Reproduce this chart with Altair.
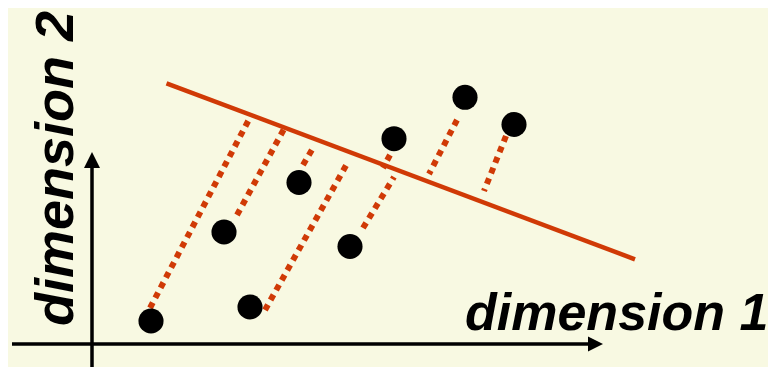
import altair as alt
import pandas as pd

# Coordinates in "dimension" units, origin where the two axes cross
point_x = [59, 132, 158, 207, 258, 302, 373, 422]
point_y = [23, 112, 37, 161.5, 97.5, 205.3, 246.7, 219.5]

line_x = [74.5, 543]
line_y = [260.7, 84.7]

proj_x1 = [58, 145, 173, 211, 271, 298, 365, 414]
proj_y1 = [36, 129, 34, 179, 116, 189, 224, 208]
proj_x2 = [158, 192, 256, 221, 302, 291, 337, 392]
proj_y2 = [226.5, 215, 182, 196, 167, 176, 170, 153]

axis_h = {"x": -80, "x2": 498, "y": 0}
axis_v = {"x": 0, "y": -31, "y2": 178}
arrow_right = {"x": 503.5, "y": 0}
arrow_up = {"x": 0, "y": 184}

labels = ["dimension 1", "dimension 2"]
label_x = [373, -19]
label_y = [14, 18]

BG = "#F8F9E2"
RED = "#D03A06"

X = alt.Scale(domain=[-84, 676], nice=False, zero=False)
Y = alt.Scale(domain=[-23, 336], nice=False, zero=False)

def xenc(f="x"):
    return alt.X(f"{f}:Q", scale=X, axis=None)

def yenc(f="y"):
    return alt.Y(f"{f}:Q", scale=Y, axis=None)

pts = pd.DataFrame({"x": point_x, "y": point_y})
ln = pd.DataFrame({"x": line_x, "y": line_y})
proj = pd.DataFrame({"x": proj_x1, "y": proj_y1, "x2": proj_x2, "y2": proj_y2})

projections = alt.Chart(proj).mark_rule(
    color=RED, strokeWidth=6, strokeDash=[6, 5.4], strokeCap="butt"
).encode(x=xenc(), y=yenc(), x2="x2:Q", y2="y2:Q")

main_line = alt.Chart(ln).mark_line(color=RED, strokeWidth=4.5).encode(
    x=xenc(), y=yenc()
)

points = alt.Chart(pts).mark_circle(color="black", opacity=1, size=630).encode(
    x=xenc(), y=yenc()
)

hax = alt.Chart(pd.DataFrame([axis_h])).mark_rule(color="black", strokeWidth=3.5).encode(
    x=xenc(), x2="x2:Q", y=yenc()
)
vax = alt.Chart(pd.DataFrame([axis_v])).mark_rule(color="black", strokeWidth=3.5).encode(
    x=xenc(), y=yenc(), y2="y2:Q"
)
arr_r = alt.Chart(pd.DataFrame([arrow_right])).mark_point(
    shape="M-1,-1L1,0L-1,1Z", filled=True, color="black", opacity=1, size=225, strokeWidth=0
).encode(x=xenc(), y=yenc())
arr_u = alt.Chart(pd.DataFrame([arrow_up])).mark_point(
    shape="M-1,1L0,-1L1,1Z", filled=True, color="black", opacity=1, size=256, strokeWidth=0
).encode(x=xenc(), y=yenc())

txt1 = alt.Chart(pd.DataFrame({"t": [labels[0]], "x": [label_x[0]], "y": [label_y[0]]})).mark_text(
    font="Liberation Sans", fontWeight="bold", fontStyle="italic", fontSize=52,
    align="left", baseline="alphabetic", color="black"
).encode(x=xenc(), y=yenc(), text="t:N")

txt2 = alt.Chart(pd.DataFrame({"t": [labels[1]], "x": [label_x[1]], "y": [label_y[1]]})).mark_text(
    font="Liberation Sans", fontWeight="bold", fontStyle="italic", fontSize=54,
    align="left", baseline="alphabetic", angle=270, color="black"
).encode(x=xenc(), y=yenc(), text="t:N")

chart = alt.layer(
    hax, vax, arr_r, arr_u, projections, main_line, points, txt1, txt2
).properties(
    width=760, height=359, background=BG, padding=0,
    autosize=alt.AutoSizeParams(type="none")
).configure_view(stroke=None)

chart.save("out.html", embed_options={"renderer": "svg", "actions": False})
